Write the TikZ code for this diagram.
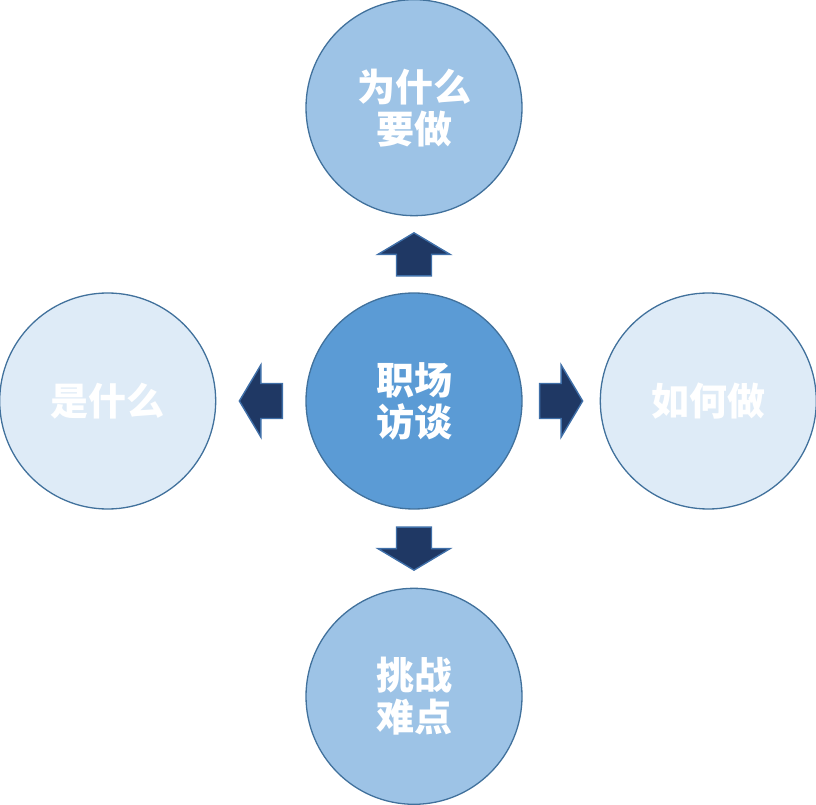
\documentclass[tikz,border=0pt]{standalone}
\usepackage{fontspec}
\usepackage{xcolor}
\usepackage{tikz}
\usetikzlibrary{
    positioning,
    calc
}
\newfontfamily\cjk{Noto Sans CJK SC}
\definecolor{fillMid}{HTML}{5B9BD5}
\definecolor{fillLight}{HTML}{9DC3E6}
\definecolor{fillPale}{HTML}{DEEBF7}
\definecolor{edgeBlue}{HTML}{41719C}
\definecolor{arrowNavy}{HTML}{1F3864}
\definecolor{arrowEdge}{HTML}{3F6FA8}

\tikzset{
    topic/.style={circle, draw=edgeBlue, line width=1.3pt, minimum size=216pt,
        inner sep=0pt, align=center, text=white,
        font=\cjk\bfseries\fontsize{38}{42}\selectfont},
    blockarrow/.pic={
        \filldraw[fill=arrowNavy, draw=arrowEdge, line width=1.4pt, line join=miter]
            (-21.5,-17.5)--(0,-17.5)--(0,-36)--(21.5,0)--(0,36)--(0,17.5)--(-21.5,17.5)--cycle;
    }
}

\begin{document}
\begin{tikzpicture}[x=1pt, y=1pt]
        % 画布
        \useasboundingbox (0,0) rectangle (816,804);

        % 圆
        \node[topic, fill=fillMid] (zc) at (414,403) {职场\\访谈};
        \node[topic, fill=fillLight, above=76pt of zc] (ztop) {为什么\\要做};
        \node[topic, fill=fillLight, below=78pt of zc] (zbottom) {挑战\\难点};
        \node[topic, fill=fillPale, left=89pt of zc] (zleft) {是什么};
        \node[topic, fill=fillPale, right=77pt of zc] (zright) {如何做};

        % 箭头
        \pic[rotate=90] at ($(zc.north)!0.5!(ztop.south)$) {blockarrow};
        \pic[rotate=-90] at ($(zc.south)!0.5!(zbottom.north)$) {blockarrow};
        \pic[rotate=180] at ($(zc.west)!0.5!(zleft.east)$) {blockarrow};
        \pic at ($(zc.east)!0.5!(zright.west)$) {blockarrow};
    \end{tikzpicture}
\end{document}
